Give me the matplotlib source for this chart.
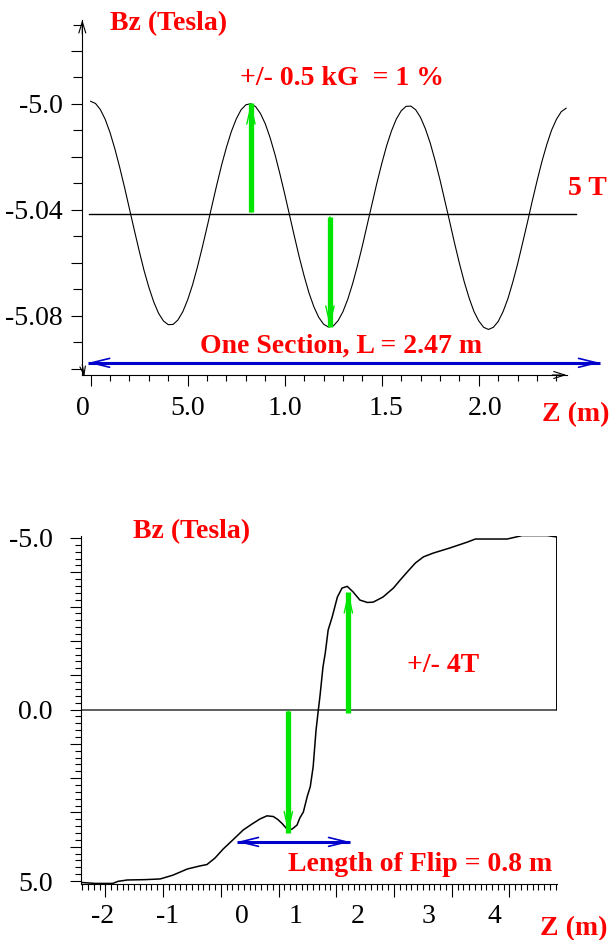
import numpy as np
import matplotlib
matplotlib.use("Agg")
import matplotlib.pyplot as plt

plt.rcParams['font.family'] = ['Liberation Serif', 'DejaVu Serif']
plt.rcParams['font.size'] = 20

# ---- top panel: field along one section ----
top_z = np.linspace(0, 2.45, 99)
top_bz = [-4.9990, -4.9998, -5.0021, -5.0058, -5.0108, -5.0170, -5.0240, -5.0316, -5.0396, -5.0476,
          -5.0554, -5.0628, -5.0692, -5.0747, -5.0790, -5.0819, -5.0833, -5.0832, -5.0815, -5.0784,
          -5.0739, -5.0683, -5.0616, -5.0542, -5.0464, -5.0384, -5.0305, -5.0230, -5.0163, -5.0104,
          -5.0057, -5.0022, -5.0003, -4.9999, -5.0010, -5.0036, -5.0075, -5.0128, -5.0191, -5.0263,
          -5.0340, -5.0420, -5.0500, -5.0578, -5.0649, -5.0713, -5.0765, -5.0805, -5.0831, -5.0842,
          -5.0838, -5.0818, -5.0784, -5.0737, -5.0678, -5.0610, -5.0536, -5.0456, -5.0377, -5.0298,
          -5.0225, -5.0158, -5.0102, -5.0057, -5.0026, -5.0009, -5.0008, -5.0022, -5.0051, -5.0094,
          -5.0148, -5.0214, -5.0286, -5.0365, -5.0444, -5.0525, -5.0601, -5.0671, -5.0732, -5.0783,
          -5.0819, -5.0843, -5.0851, -5.0843, -5.0821, -5.0784, -5.0735, -5.0673, -5.0604, -5.0527,
          -5.0449, -5.0368, -5.0291, -5.0218, -5.0154, -5.0099, -5.0058, -5.0029, -5.0016]
top_mean_z = [-0.01, 2.5]
top_mean_bz = -5.0415
top_up_arrow = (0.826, -5.0408, -4.9996)      # z, from, to
top_down_arrow = (1.233, -5.0426, -5.0842)
top_section = (-0.013, 2.625, -5.0977)        # z0, z1, bz

top_y_major = [-5.10, -5.08, -5.06, -5.04, -5.02, -5.0, -4.98]
top_y_labels = ['', '-5.08', '', '-5.04', '', '-5.0', '']
top_y_minor = [-5.09, -5.07, -5.05, -5.03, -5.01, -4.99, -4.97]
top_x_major = [0, 0.5, 1.0, 1.5, 2.0]
top_xlabel_pos = [-0.041, 0.5, 1.0, 1.52, 2.03]
top_xlabels = ['0', '5.0', '1.0', '1.5', '2.0']

# ---- bottom panel: field flip ----
bot_z = [-2.43, -2.18, -1.87, -1.78, -1.62, -1.31, -1.05, -0.83, -0.58, -0.36,
         -0.24, -0.10, 0.04, 0.21, 0.39, 0.54, 0.68, 0.80, 0.91, 0.99,
         1.06, 1.17, 1.24, 1.32, 1.37, 1.43, 1.50, 1.55, 1.60, 1.65,
         1.69, 1.72, 1.77, 1.81, 1.86, 1.93, 2.02, 2.10, 2.19, 2.29,
         2.41, 2.54, 2.64, 2.81, 2.99, 3.11, 3.23, 3.37, 3.51, 3.68,
         3.97, 4.27, 4.41, 4.96, 5.22, 5.65, 5.82, 5.82]
bot_bz = [5.04, 5.07, 5.07, 5.01, 4.97, 4.96, 4.94, 4.83, 4.65, 4.56,
          4.52, 4.33, 4.07, 3.80, 3.51, 3.34, 3.19, 3.10, 3.12, 3.21,
          3.32, 3.53, 3.48, 3.37, 3.16, 2.99, 2.52, 2.25, 1.67, 0.60,
          0.01, -0.42, -1.24, -1.65, -2.32, -2.70, -3.28, -3.54, -3.59, -3.43,
          -3.19, -3.12, -3.13, -3.28, -3.54, -3.78, -4.01, -4.27, -4.45, -4.56,
          -4.71, -4.88, -4.97, -4.97, -5.07, -5.07, -5.03, 0.0]
bot_down_arrow = (1.17, 0.04, 3.59)
bot_up_arrow = (2.21, 0.09, -3.43)
bot_flip = (0.28, 2.24, 3.86)

bot_y_major = [-5, -4, -3, -2, -1, 0, 1, 2, 3, 4, 5]
bot_y_labels = ['-5.0', '', '', '', '', '0.0', '', '', '', '', '5.0']
bot_x_major = [-2, -1, 0, 1, 2, 3, 4, 5]
bot_xlabel_pos = [-2.04, -0.93, 0.37, 1.30, 2.37, 3.59, 4.74]
bot_xlabels = ['-2', '-1', '0', '1', '2', '3', '4']

RED = '#ff0000'
GREEN = '#00e600'
BLUE = '#0000cc'
W, H = 609, 940

fig = plt.figure(figsize=(6.09, 9.40), dpi=100)


def put(x, y, s, **kw):
    fig.text(x / W, 1 - y / H, s, color=RED, fontweight='bold', fontsize=20, **kw)


def green_arrow(ax, z, b0, b1):
    ax.plot([z, z], [b0, b1], color=GREEN, lw=3.8, solid_capstyle='butt')
    ax.annotate('', xy=(z, b1), xytext=(z, b0),
                arrowprops=dict(arrowstyle='->,head_length=1.3,head_width=0.3', lw=1.0,
                                color=GREEN, shrinkA=0, shrinkB=0, mutation_scale=10))


def blue_arrow(ax, z0, z1, b):
    ax.plot([z0, z1], [b, b], color=BLUE, lw=2.2, solid_capstyle='butt', clip_on=False)
    ax.annotate('', xy=(z1, b), xytext=(z0, b), annotation_clip=False,
                arrowprops=dict(arrowstyle='<->,head_length=1.3,head_width=0.32', lw=1.2,
                                color=BLUE, shrinkA=0, shrinkB=0, mutation_scale=10))


# top panel
ax1 = fig.add_axes([82.3 / W, 1 - 375 / H, (566.7 - 82.3) / W, (375 - 20) / H])
ax1.set_xlim(-0.043, 2.453)
ax1.set_ylim(-5.1023, -4.9683)
for s in ['top', 'right']:
    ax1.spines[s].set_visible(False)
for s in ['left', 'bottom']:
    ax1.spines[s].set_linewidth(0.8)

ax1.plot(top_z, top_bz, color='black', lw=0.8)
ax1.plot(top_mean_z, [top_mean_bz, top_mean_bz], color='black', lw=1.0, clip_on=False)
green_arrow(ax1, *top_up_arrow)
green_arrow(ax1, *top_down_arrow)
blue_arrow(ax1, *top_section)

ax1.set_yticks(top_y_major, labels=top_y_labels)
ax1.set_yticks(top_y_minor, minor=True)
ax1.tick_params(axis='y', which='major', length=8, width=0.8, pad=6)
ax1.tick_params(axis='y', which='minor', length=6.5, width=0.8)
ax1.set_xticks(top_x_major)
ax1.set_xticks(np.arange(0, 2.45, 0.1), minor=True)
ax1.tick_params(axis='x', which='major', length=8, width=0.8, labelbottom=False)
ax1.tick_params(axis='x', which='minor', length=4.5, width=0.8)
sec1 = ax1.secondary_xaxis('bottom')
sec1.set_xticks(top_xlabel_pos, labels=top_xlabels)
sec1.tick_params(length=0, pad=15)
sec1.spines['bottom'].set_visible(False)

# axis arrow heads
ax1.annotate('', xy=(0, 1.0), xytext=(0, 0.96), xycoords='axes fraction',
             arrowprops=dict(arrowstyle='->,head_length=0.8,head_width=0.25', lw=0.8,
                             color='black', shrinkA=0, shrinkB=0, mutation_scale=10))
ax1.annotate('', xy=(1.0, 0), xytext=(0.97, 0), xycoords='axes fraction',
             arrowprops=dict(arrowstyle='->,head_length=0.8,head_width=0.25', lw=0.8,
                             color='black', shrinkA=0, shrinkB=0, mutation_scale=10))
ax1.annotate('', xy=(0.004, -0.004), xytext=(0, 0.03), xycoords='axes fraction',
             arrowprops=dict(arrowstyle='->,head_length=0.6,head_width=0.2', lw=0.8,
                             color='black', shrinkA=0, shrinkB=0, mutation_scale=10))

put(110, 30.5, 'Bz (Tesla)')
put(240, 85, '+/- 0.5 kG  = 1 %')
put(568, 195, '5 T')
put(200, 353, 'One Section, L = 2.47 m')
put(542, 421, 'Z (m)')

# bottom panel
ax2 = fig.add_axes([80.7 / W, 1 - 884 / H, (556.7 - 80.7) / W, (884 - 536) / H])
ax2.set_xlim(-2.426, 5.818)
ax2.set_ylim(5.087, -5.058)
for s in ['top', 'right']:
    ax2.spines[s].set_visible(False)
for s in ['left', 'bottom']:
    ax2.spines[s].set_linewidth(0.8)

ax2.axhline(0, color='#333333', lw=1.1)
ax2.plot(bot_z, bot_bz, color='black', lw=1.1)
green_arrow(ax2, *bot_down_arrow)
green_arrow(ax2, *bot_up_arrow)
blue_arrow(ax2, *bot_flip)

ax2.set_yticks(bot_y_major, labels=bot_y_labels)
ax2.set_yticks(np.arange(-5, 5.01, 0.2), minor=True)
ax2.tick_params(axis='y', which='major', length=8, width=0.8, pad=12)
ax2.tick_params(axis='y', which='minor', length=4.5, width=0.8)
ax2.set_xticks(bot_x_major)
ax2.set_xticks(np.arange(-2.4, 5.81, 0.1), minor=True)
ax2.tick_params(axis='x', which='major', length=9.4, width=0.8, labelbottom=False)
ax2.tick_params(axis='x', which='minor', length=4.3, width=0.8)
sec2 = ax2.secondary_xaxis('bottom')
sec2.set_xticks(bot_xlabel_pos, labels=bot_xlabels)
sec2.tick_params(length=0, pad=14.5)
sec2.spines['bottom'].set_visible(False)

put(133, 538, 'Bz (Tesla)')
put(407, 672, '+/- 4T')
put(288, 871, 'Length of Flip = 0.8 m')
put(540, 935, 'Z (m)')

fig.savefig('out.png', dpi=100)
